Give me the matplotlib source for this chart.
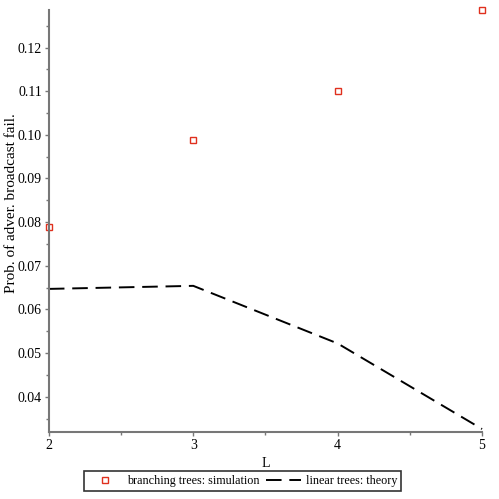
import matplotlib
matplotlib.use('Agg')
import matplotlib.pyplot as plt
from matplotlib.ticker import MultipleLocator

L = [2, 3, 4, 5]
sim = [0.0789, 0.0989, 0.1101, 0.1285]
theory = [0.0647, 0.0654, 0.0522, 0.0326]

plt.rcParams['font.family'] = ['Liberation Serif', 'DejaVu Serif']

fig = plt.figure(figsize=(4.99, 4.99), dpi=100)
ax = fig.add_axes([0.098, 0.135, 0.868, 0.845])

ax.plot(L, sim, 's', mfc='none', mec='#e0301e', ms=5, mew=1.0,
        clip_on=False, label='branching trees: simulation')
ax.plot(L, theory, color='black', lw=1.4, dashes=(8, 4),
        clip_on=False, label='linear trees: theory')

ax.set_xlim(2, 5)
ax.set_ylim(0.032, 0.1286)
ax.xaxis.set_major_locator(MultipleLocator(1))
ax.xaxis.set_minor_locator(MultipleLocator(0.5))
ax.yaxis.set_major_locator(MultipleLocator(0.01))
ax.yaxis.set_minor_locator(MultipleLocator(0.005))
ax.yaxis.set_major_formatter(matplotlib.ticker.FormatStrFormatter('%.2f'))

for s in ['top', 'right']:
    ax.spines[s].set_visible(False)
for s in ['left', 'bottom']:
    ax.spines[s].set_color('#777777')
    ax.spines[s].set_linewidth(1.5)
ax.tick_params(which='major', length=3, width=1, color='#777777', labelsize=10, pad=2)
ax.tick_params(which='minor', length=2, width=1, color='#777777')

ax.set_xlabel('L', fontsize=10, labelpad=4)
ax.set_ylabel('Prob. of adver. broadcast fail.', fontsize=11)
ax.yaxis.set_label_coords(-0.072, 0.542)

leg = fig.legend(loc='center', bbox_to_anchor=(0.486, 0.036), ncol=2, fontsize=8.7,
                 frameon=True, fancybox=False, edgecolor='black',
                 handlelength=2.9, handletextpad=0.4, columnspacing=0.5,
                 borderpad=0.3)
leg.get_frame().set_linewidth(1.2)

plt.savefig('out.png', dpi=100)
